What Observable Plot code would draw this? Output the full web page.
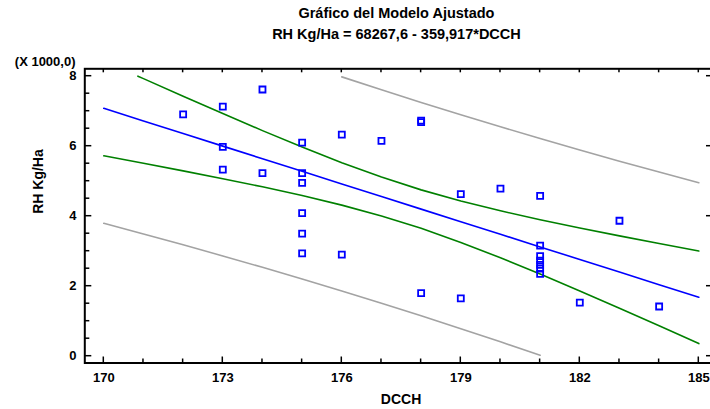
<!DOCTYPE html>
<html>
<head>
<meta charset="utf-8">
<script src="https://cdn.jsdelivr.net/npm/d3@7"></script>
<script src="https://cdn.jsdelivr.net/npm/@observablehq/plot@0.6"></script>
<style>
  html, body { margin: 0; padding: 0; background: #fff; }
  svg { display: block; }
</style>
</head>
<body>
<div id="chart"></div>
<script>
// ---- texts ----
const title = "Gráfico del Modelo Ajustado";
const subtitle = "RH Kg/Ha = 68267,6 - 359,917*DCCH";
const xTitle = "DCCH";
const yTitle = "RH Kg/Ha";
const yMultiplier = "(X 1000,0)";

// ---- observed data (DCCH, RH Kg/Ha) ----
const dcch = [172, 173, 174, 173, 173, 174, 175, 175, 175, 175, 175, 175, 176, 176, 177,
              178, 178, 178, 179, 179, 180, 181, 181, 181, 181, 181, 181, 181, 182, 183, 184];
const rhKgHa = [6910, 7130, 7620, 5980, 5330, 5230, 6100, 5230, 4950, 4090, 3500, 2940, 6330, 2900, 6150,
                6730, 6690, 1800, 4630, 1650, 4790, 4580, 3160, 2860, 2730, 2610, 2500, 2350, 1530, 3870, 1420];

// ---- fitted line ----
const fitX = [170, 171, 172, 173, 174, 175, 176, 177, 178, 179, 180, 181, 182, 183, 184, 185];
const fitY = [7082, 6722, 6362, 6002, 5642, 5282, 4922, 4562, 4202, 3842, 3483, 3123, 2763, 2403, 2043, 1683];

// ---- confidence limits (green) ----
const confUpperX = [170.86, 171, 172, 173, 174, 175, 176, 177, 178, 179, 180, 181, 182, 183, 184, 185];
const confUpperY = [8000, 7931, 7428, 6932, 6445, 5975, 5528, 5117, 4752, 4433, 4153, 3899, 3663, 3437, 3219, 3006];
const confLowerX = [170, 171, 172, 173, 174, 175, 176, 177, 178, 179, 180, 181, 182, 183, 184, 185];
const confLowerY = [5725, 5513, 5296, 5072, 4839, 4590, 4316, 4007, 3653, 3251, 2812, 2346, 1863, 1368, 867, 360];

// ---- prediction limits (grey) ----
const predUpperX = [176, 177, 178, 179, 180, 181, 182, 183, 184, 185];
const predUpperY = [7981, 7612, 7251, 6899, 6555, 6219, 5891, 5572, 5260, 4955];
const predLowerX = [170, 171, 172, 173, 174, 175, 176, 177, 178, 179, 180, 181];
const predLowerY = [3797, 3493, 3183, 2865, 2539, 2205, 1863, 1513, 1154, 786, 410, 26];

// ---- ticks ----
const xTickAll = [170, 171, 172, 173, 174, 175, 176, 177, 178, 179, 180, 181, 182, 183, 184, 185];
const xTickLabels = [170, 173, 176, 179, 182, 185];
const yTickMinor = [0, 0.5, 1, 1.5, 2, 2.5, 3, 3.5, 4, 4.5, 5, 5.5, 6, 6.5, 7, 7.5, 8];
const yTickLabels = [0, 2, 4, 6, 8];

const rows = (xs, ys) => xs.map((x, i) => ({x, y: ys[i] / 1000}));
const points = dcch.map((x, i) => ({x, y: rhKgHa[i] / 1000}));

const font = "'Liberation Sans', Arial, Helvetica, sans-serif";
const lineW = 1.6;

// Inward-pointing tick marks, positioned through the plot's own scales.
function inwardTicks(index, scales, values, dims) {
  const left = dims.marginLeft, right = dims.width - dims.marginRight;
  const top = dims.marginTop, bottom = dims.height - dims.marginBottom;
  const g = d3.create("svg:g").attr("stroke", "black").attr("stroke-width", 1.5).attr("fill", "none");
  const seg = (x1, y1, x2, y2) => g.append("line").attr("x1", x1).attr("y1", y1).attr("x2", x2).attr("y2", y2);
  for (const v of xTickAll) {
    const x = scales.x(v);
    const len = xTickLabels.includes(v) ? 6 : 4;
    seg(x, bottom, x, bottom - len);
    seg(x, top, x, top + 4);
  }
  for (const v of yTickMinor) {
    const y = scales.y(v);
    const len = yTickLabels.includes(v) ? 7 : 5;
    seg(left, y, left + len, y);
  }
  for (const v of yTickLabels) {
    const y = scales.y(v);
    seg(right, y, right - 5, y);
  }
  return g.node();
}

const chart = Plot.plot({
  width: 710,
  height: 409,
  marginLeft: 84.3,
  marginRight: -1,
  marginTop: 68.3,
  marginBottom: 46.5,
  x: {domain: [170, 185], range: [103.3, 698.3], label: null},
  y: {domain: [0, 8], range: [355.7, 75.7], label: null},
  style: {fontFamily: font, background: "white", color: "black"},
  marks: [
    // fitted model lines
    Plot.line(rows(predUpperX, predUpperY), {x: "x", y: "y", stroke: "#a3a3a3", strokeWidth: lineW}),
    Plot.line(rows(predLowerX, predLowerY), {x: "x", y: "y", stroke: "#a3a3a3", strokeWidth: lineW}),
    Plot.line(rows(confUpperX, confUpperY), {x: "x", y: "y", stroke: "#008000", strokeWidth: lineW}),
    Plot.line(rows(confLowerX, confLowerY), {x: "x", y: "y", stroke: "#008000", strokeWidth: lineW}),
    Plot.line(rows(fitX, fitY), {x: "x", y: "y", stroke: "#0000ff", strokeWidth: lineW}),
    // observations
    Plot.dot(points, {x: "x", y: "y", symbol: "square", r: 3.4, stroke: "#0000ff", strokeWidth: 1.8, fill: "none"}),
    // frame
    Plot.frame({stroke: "black", strokeWidth: 2}),
    // inward tick marks
    inwardTicks,
    // tick labels
    Plot.axisX(xTickLabels, {anchor: "bottom", tickSize: 0, tickPadding: 9.6, fontSize: 13, fontWeight: "bold", tickFormat: d => String(d)}),
    Plot.axisY(yTickLabels, {anchor: "left", tickSize: 0, tickPadding: 8.3, fontSize: 13, fontWeight: "bold", tickFormat: d => String(d)}),
    // titles
    Plot.text([title], {text: d => d, frameAnchor: "top", dx: -1.7, dy: -60.8, fontSize: 14.5, fontWeight: "bold"}),
    Plot.text([subtitle], {text: d => d, frameAnchor: "top", dx: -1.7, dy: -40.5, fontSize: 14.5, fontWeight: "bold"}),
    Plot.text([yMultiplier], {text: d => d, frameAnchor: "top-left", textAnchor: "end", dx: -9.3, dy: -12.3, fontSize: 13, fontWeight: "bold"}),
    Plot.text([xTitle], {text: d => d, frameAnchor: "bottom", dx: 2.9, dy: 41, fontSize: 14, fontWeight: "bold"}),
    Plot.text([yTitle], {text: d => d, frameAnchor: "left", rotate: -90, dx: -45.8, dy: -2.1, fontSize: 14, fontWeight: "bold"})
  ]
});

document.getElementById("chart").appendChild(chart);
</script>
</body>
</html>
